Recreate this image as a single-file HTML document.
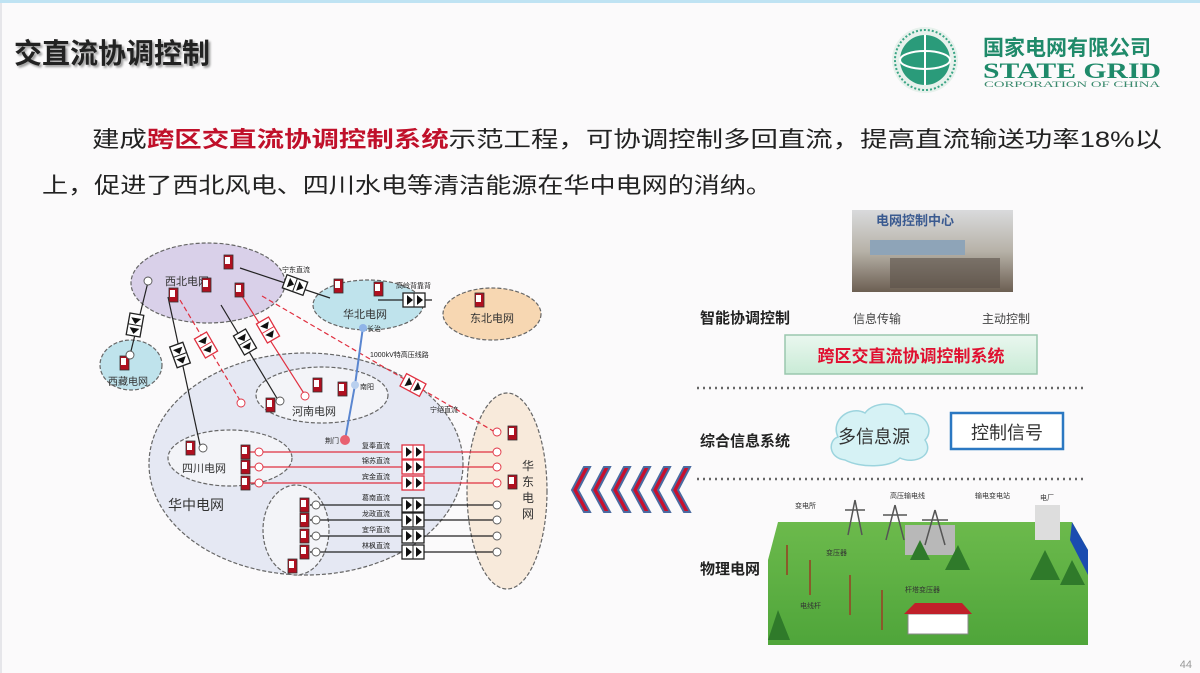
<!DOCTYPE html>
<html><head><meta charset="utf-8"><style>
html,body{margin:0;padding:0;background:#fbfafb;}
svg{display:block}
text{font-family:"Liberation Sans","Noto Sans CJK SC",sans-serif;}
</style></head><body>
<svg width="1200" height="673" viewBox="0 0 1200 673" xmlns="http://www.w3.org/2000/svg">
<defs>
<linearGradient id="gb" x1="0" y1="0" x2="0" y2="1"><stop offset="0" stop-color="#eaf7ef"/><stop offset="1" stop-color="#c9ebd6"/></linearGradient>
<linearGradient id="grass" x1="0" y1="0" x2="0" y2="1"><stop offset="0" stop-color="#6cba4c"/><stop offset="1" stop-color="#4fa53a"/></linearGradient>
<linearGradient id="photo" x1="0" y1="0" x2="0" y2="1"><stop offset="0" stop-color="#d9dadc"/><stop offset="0.5" stop-color="#b7b2a8"/><stop offset="1" stop-color="#6c5f52"/></linearGradient>
<g id="conv"><rect x="-11" y="-7" width="22" height="14" fill="#fff" stroke="#222" stroke-width="1.3"/><line x1="0" y1="-7" x2="0" y2="7" stroke="#222"/><polygon points="-7,-5 -1,0 -7,5" fill="#111"/><polygon points="3,-5 9,0 3,5" fill="#111"/></g>
<g id="convr"><rect x="-11" y="-7" width="22" height="14" fill="#fff" stroke="#e03040" stroke-width="1.3"/><line x1="0" y1="-7" x2="0" y2="7" stroke="#e03040"/><polygon points="-7,-5 -1,0 -7,5" fill="#111"/><polygon points="3,-5 9,0 3,5" fill="#111"/></g>
<g id="gen"><rect x="-4" y="-7" width="9" height="14" fill="#b01020" stroke="#333" stroke-width="0.8"/><rect x="-3" y="-5" width="5" height="7" fill="#fff"/></g>
<g id="cir"><circle r="4" fill="#fff" stroke="#555" stroke-width="0.9"/></g>
<g id="cirr"><circle r="4" fill="#fff" stroke="#e03040" stroke-width="0.9"/></g>
</defs>
<rect x="0" y="0" width="1200" height="3" fill="#bfe3f3"/>
<rect x="0" y="3" width="2" height="670" fill="#e6e6ea"/>

<!-- title -->
<text x="14" y="63" font-size="28" font-weight="bold" fill="#222" style="filter:drop-shadow(2px 2px 1px #999)">交直流协调控制</text>

<!-- logo -->
<circle cx="925" cy="60" r="33" fill="#e7f1ec"/>
<circle cx="925" cy="60" r="25" fill="#2a9b7a"/>
<ellipse cx="925" cy="60" rx="25" ry="9" fill="none" stroke="#fff" stroke-width="2"/>
<line x1="925" y1="35" x2="925" y2="85" stroke="#fff" stroke-width="2"/>
<circle cx="925" cy="60" r="30" fill="none" stroke="#3aa585" stroke-width="2" stroke-dasharray="2 2"/>
<text x="983" y="55" font-size="21" font-weight="bold" fill="#1f8a6a">国家电网有限公司</text>
<text x="983" y="78" font-size="22" font-weight="bold" fill="#1f8a6a" style="font-family:'Liberation Serif',serif" textLength="178" lengthAdjust="spacingAndGlyphs">STATE GRID</text>
<text x="984" y="87" font-size="8" fill="#3b8a6e" style="font-family:'Liberation Serif',serif" textLength="176" lengthAdjust="spacingAndGlyphs">CORPORATION OF CHINA</text>

<!-- body text -->
<text x="92" y="147" font-size="22" fill="#222" textLength="1070" lengthAdjust="spacingAndGlyphs">建成<tspan fill="#c0102a" font-weight="bold">跨区交直流协调控制系统</tspan>示范工程，可协调控制多回直流，提高直流输送功率18%以</text>
<text x="42" y="193" font-size="22" fill="#222" textLength="730" lengthAdjust="spacingAndGlyphs">上，促进了西北风电、四川水电等清洁能源在华中电网的消纳。</text>

<!-- LEFT DIAGRAM -->
<g stroke="#666" stroke-width="1.2" stroke-dasharray="4 2">
<ellipse cx="306" cy="464" rx="157" ry="111" fill="#e5e8f3"/>
<ellipse cx="507" cy="491" rx="40" ry="98" fill="#f8eadb"/>
<ellipse cx="208" cy="283" rx="77" ry="40" fill="#d9d0e9"/>
<ellipse cx="368" cy="305" rx="55" ry="25" fill="#bfe3ec"/>
<ellipse cx="492" cy="314" rx="49" ry="26" fill="#f7d7b2"/>
<ellipse cx="131" cy="365" rx="31" ry="25" fill="#bfe3ec"/>
<ellipse cx="322" cy="395" rx="66" ry="28" fill="#f3f4f8"/>
<ellipse cx="230" cy="458" rx="62" ry="28" fill="#f3f4f8"/>
<ellipse cx="296" cy="530" rx="33" ry="45" fill="#f3f4f8"/>
</g>
<g font-size="11" fill="#333">
<text x="165" y="285">西北电网</text>
<text x="343" y="318">华北电网</text>
<text x="470" y="322">东北电网</text>
<text x="108" y="385" font-size="10">西藏电网</text>
<text x="292" y="415">河南电网</text>
<text x="182" y="472">四川电网</text>
<text x="168" y="510" font-size="14">华中电网</text>
<text x="522" y="470" font-size="12">华</text><text x="522" y="486" font-size="12">东</text><text x="522" y="502" font-size="12">电</text><text x="522" y="518" font-size="12">网</text>
</g>
<!-- connections -->
<g stroke="#222" stroke-width="1.2" fill="none">
<line x1="148" y1="282" x2="130" y2="355"/>
<line x1="168" y1="297" x2="200" y2="445"/>
<line x1="221" y1="305" x2="278" y2="400"/>
<line x1="240" y1="268" x2="330" y2="298"/>
<line x1="378" y1="300" x2="432" y2="300"/>
<line x1="310" y1="505" x2="497" y2="505"/><line x1="310" y1="520" x2="497" y2="520"/>
<line x1="310" y1="536" x2="497" y2="536"/><line x1="310" y1="552" x2="497" y2="552"/>
</g>
<g stroke="#e03040" stroke-width="1.2" fill="none">
<line x1="180" y1="300" x2="241" y2="402" stroke-dasharray="5 3"/>
<line x1="240" y1="293" x2="305" y2="395"/>
<line x1="262" y1="296" x2="495" y2="432" stroke-dasharray="5 3"/>
<line x1="245" y1="452" x2="497" y2="452"/><line x1="245" y1="467" x2="497" y2="467"/><line x1="245" y1="483" x2="497" y2="483"/>
</g>
<polyline points="363,327 355,385 345,440" stroke="#5a86d0" stroke-width="2" fill="none"/>
<circle cx="363" cy="328" r="4" fill="#8fb4e8"/><circle cx="355" cy="385" r="4" fill="#b8cfee"/><circle cx="345" cy="440" r="5" fill="#e86070"/>
<g font-size="7" fill="#222"><text x="367" y="331">长治</text><text x="360" y="389">南阳</text><text x="325" y="443">荆门</text>
<text x="370" y="357">1000kV特高压线路</text><text x="396" y="288">高岭背靠背</text><text x="282" y="272">宁东直流</text><text x="430" y="412">宁绍直流</text>
<text x="362" y="448">复奉直流</text><text x="362" y="463">锦苏直流</text><text x="362" y="479">宾金直流</text>
<text x="362" y="500">葛南直流</text><text x="362" y="516">龙政直流</text><text x="362" y="532">宜华直流</text><text x="362" y="548">林枫直流</text></g>
<g>
<use href="#conv" transform="translate(295,285) rotate(20)"/>
<use href="#conv" transform="translate(414,300)"/>
<use href="#conv" transform="translate(135,325) rotate(100)"/>
<use href="#conv" transform="translate(180,355) rotate(70)"/>
<use href="#conv" transform="translate(245,342) rotate(60)"/>
<use href="#convr" transform="translate(206,345) rotate(60)"/>
<use href="#convr" transform="translate(268,330) rotate(60)"/>
<use href="#convr" transform="translate(413,385) rotate(28)"/>
<use href="#convr" transform="translate(413,452)"/><use href="#convr" transform="translate(413,467)"/><use href="#convr" transform="translate(413,483)"/>
<use href="#conv" transform="translate(413,505)"/><use href="#conv" transform="translate(413,520)"/><use href="#conv" transform="translate(413,536)"/><use href="#conv" transform="translate(413,552)"/>
</g>
<g>
<use href="#gen" transform="translate(228,262)"/><use href="#gen" transform="translate(173,295)"/><use href="#gen" transform="translate(206,285)"/><use href="#gen" transform="translate(239,290)"/>
<use href="#gen" transform="translate(338,286)"/><use href="#gen" transform="translate(378,289)"/><use href="#gen" transform="translate(479,300)"/>
<use href="#gen" transform="translate(124,363)"/><use href="#gen" transform="translate(317,385)"/><use href="#gen" transform="translate(342,389)"/><use href="#gen" transform="translate(270,405)"/>
<use href="#gen" transform="translate(190,448)"/><use href="#gen" transform="translate(245,452)"/><use href="#gen" transform="translate(245,467)"/><use href="#gen" transform="translate(245,483)"/>
<use href="#gen" transform="translate(304,505)"/><use href="#gen" transform="translate(304,520)"/><use href="#gen" transform="translate(304,536)"/><use href="#gen" transform="translate(304,552)"/><use href="#gen" transform="translate(292,566)"/>
<use href="#gen" transform="translate(512,433)"/><use href="#gen" transform="translate(512,482)"/>
</g>
<g>
<use href="#cirr" transform="translate(259,452)"/><use href="#cirr" transform="translate(259,467)"/><use href="#cirr" transform="translate(259,483)"/>
<use href="#cirr" transform="translate(497,452)"/><use href="#cirr" transform="translate(497,467)"/><use href="#cirr" transform="translate(497,483)"/>
<use href="#cir" transform="translate(316,505)"/><use href="#cir" transform="translate(316,520)"/><use href="#cir" transform="translate(316,536)"/><use href="#cir" transform="translate(316,552)"/>
<use href="#cir" transform="translate(497,505)"/><use href="#cir" transform="translate(497,520)"/><use href="#cir" transform="translate(497,536)"/><use href="#cir" transform="translate(497,552)"/>
<use href="#cirr" transform="translate(241,403)"/><use href="#cirr" transform="translate(305,396)"/><use href="#cirr" transform="translate(497,432)"/>
<use href="#cir" transform="translate(148,281)"/><use href="#cir" transform="translate(203,448)"/><use href="#cir" transform="translate(280,401)"/><use href="#cir" transform="translate(130,355)"/>
</g>

<!-- chevrons -->
<g fill="#c8102e" stroke="#4a6aa0" stroke-width="2">
<polygon points="584,467 590,467 578,490 590,512 584,512 572,490"/>
<polygon points="604,467 610,467 598,490 610,512 604,512 592,490"/>
<polygon points="624,467 630,467 618,490 630,512 624,512 612,490"/>
<polygon points="644,467 650,467 638,490 650,512 644,512 632,490"/>
<polygon points="664,467 670,467 658,490 670,512 664,512 652,490"/>
<polygon points="684,467 690,467 678,490 690,512 684,512 672,490"/>
</g>

<!-- RIGHT -->
<rect x="852" y="210" width="161" height="82" fill="url(#photo)"/>
<rect x="870" y="240" width="95" height="15" fill="#8ea4b8"/>
<rect x="890" y="258" width="110" height="30" fill="#5a5048" opacity="0.6"/>
<text x="876" y="225" font-size="13" font-weight="bold" fill="#3a5a90">电网控制中心</text>
<g font-size="15" font-weight="bold" fill="#222">
<text x="700" y="323">智能协调控制</text><text x="700" y="446">综合信息系统</text><text x="700" y="574">物理电网</text></g>
<text x="853" y="323" font-size="12" fill="#444">信息传输</text>
<text x="982" y="323" font-size="12" fill="#444">主动控制</text>
<rect x="785" y="335" width="252" height="39" fill="url(#gb)" stroke="#9ac7ae" stroke-width="1.5"/>
<text x="911" y="362" font-size="17" font-weight="bold" fill="#e01030" text-anchor="middle">跨区交直流协调控制系统</text>
<line x1="697" y1="388" x2="1087" y2="388" stroke="#666" stroke-width="2.5" stroke-dasharray="2 4"/>
<line x1="697" y1="479" x2="1087" y2="479" stroke="#666" stroke-width="2.5" stroke-dasharray="2 4"/>
<path d="M845,460 C828,458 828,440 838,437 C830,420 850,405 865,413 C875,400 900,402 905,414 C925,410 935,430 925,440 C935,455 915,465 900,458 C890,468 860,468 845,460 Z" fill="#d6f2f5" stroke="#9cd4de" stroke-width="1.5"/>
<text x="838" y="443" font-size="18" fill="#333">多信息源</text>
<rect x="951" y="413" width="112" height="36" fill="#fff" stroke="#2b78c2" stroke-width="2.5"/>
<text x="1007" y="439" font-size="18" fill="#333" text-anchor="middle">控制信号</text>
<!-- landscape -->
<polygon points="778,522 1072,522 1088,550 1088,645 768,645 768,560" fill="url(#grass)"/>
<polygon points="1072,522 1088,550 1088,575 1070,540" fill="#1a4cb0"/>
<rect x="905" y="525" width="50" height="30" fill="#b8b8b8"/>
<rect x="1035" y="505" width="25" height="35" fill="#ddd"/>
<g fill="#2f7a2a"><polygon points="910,560 920,540 930,560"/><polygon points="945,570 958,545 970,570"/><polygon points="1030,580 1045,550 1060,580"/><polygon points="1060,585 1072,560 1085,585"/><polygon points="768,640 778,610 790,640"/></g>
<g stroke="#555" stroke-width="1.5" fill="none"><path d="M855,500 L848,535 M855,500 L862,535 M845,510 L865,510"/><path d="M895,505 L886,540 M895,505 L904,540 M883,515 L907,515"/><path d="M935,510 L925,545 M935,510 L945,545 M922,520 L948,520"/></g>
<g stroke="#8a5a2a" stroke-width="2"><line x1="787" y1="545" x2="787" y2="575"/><line x1="810" y1="560" x2="810" y2="595"/><line x1="850" y1="575" x2="850" y2="615"/><line x1="882" y1="590" x2="882" y2="630"/></g>
<rect x="908" y="614" width="60" height="20" fill="#fff" stroke="#888"/>
<polygon points="904,614 915,603 962,603 972,614" fill="#c0202a"/>
<g font-size="7" fill="#333"><text x="795" y="508">变电所</text><text x="890" y="498">高压输电线</text><text x="975" y="498">输电变电站</text><text x="1040" y="500">电厂</text><text x="826" y="555">变压器</text><text x="800" y="608">电线杆</text><text x="905" y="592">杆塔变压器</text></g>

<text x="1192" y="668" font-size="11" fill="#999" text-anchor="end">44</text>
</svg>
</body></html>
